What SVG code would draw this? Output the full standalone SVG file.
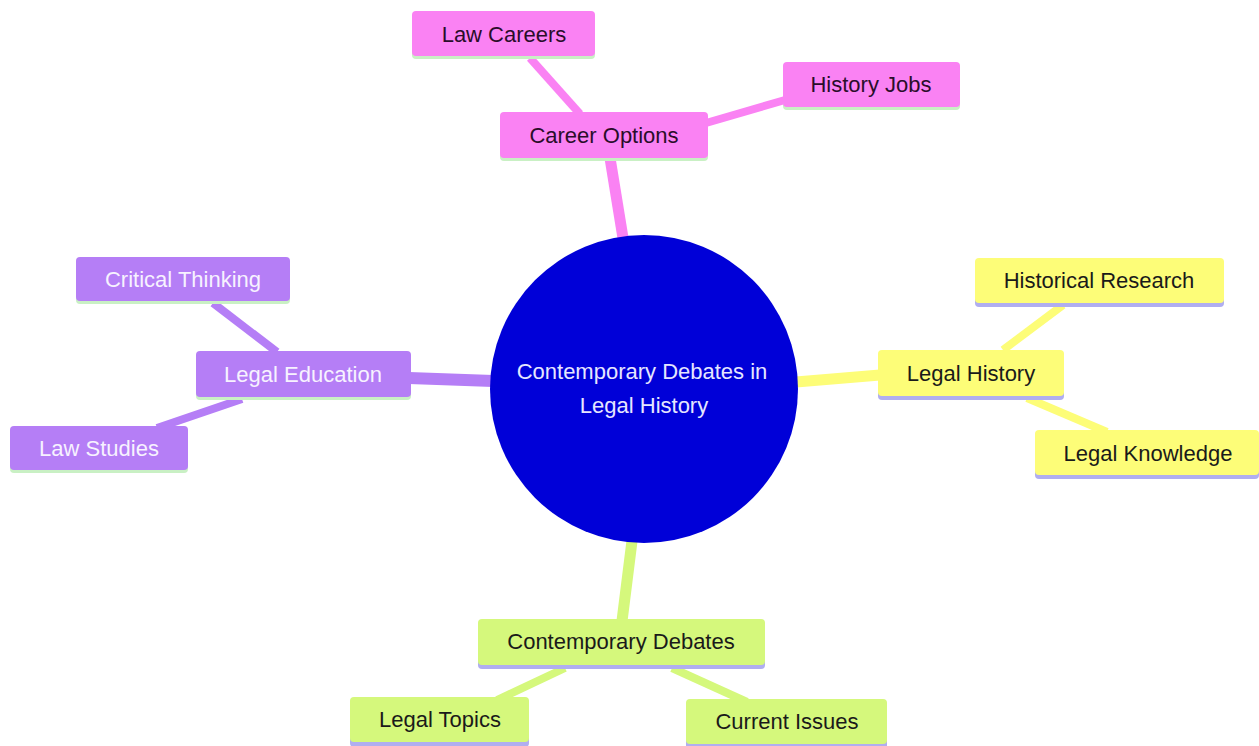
<svg xmlns="http://www.w3.org/2000/svg" width="1259" height="746" viewBox="0 0 1259 746">
<style>
text{font-family:"Liberation Sans",Arial,sans-serif;font-size:22px;text-anchor:middle;dominant-baseline:central}
.pk{fill:#fa82f3}.pu{fill:#b57ef6}.ye{fill:#fdfd78}.gr{fill:#d5f87c}
.ulg{fill:#c9f0c4}.ull{fill:#b0aef0}
.tpk{fill:#2a0d2a}.tpu{fill:#f7f2ff}.tdk{fill:#1a1a1a}
.e{fill:none;stroke-linecap:butt}
.epk{stroke:#fa82f3}.epu{stroke:#b57ef6}.eye{stroke:#fdfd78}.egr{stroke:#d5f87c}
</style>
<rect width="1259" height="746" fill="#ffffff"/>
<g id="connectors">
<line class="e epk" x1="610" y1="158" x2="623" y2="238" stroke-width="11"/>
<line class="e epu" x1="409" y1="378" x2="493" y2="381" stroke-width="12"/>
<line class="e eye" x1="796" y1="382" x2="880" y2="375" stroke-width="11"/>
<line class="e egr" x1="632" y1="541" x2="622" y2="621" stroke-width="11"/>
<line class="e epk" x1="530" y1="58" x2="580" y2="114" stroke-width="8"/>
<line class="e epk" x1="706" y1="123" x2="785" y2="100" stroke-width="8"/>
<line class="e epu" x1="213" y1="303" x2="277" y2="352" stroke-width="8"/>
<line class="e epu" x1="242" y1="399" x2="157" y2="428" stroke-width="8"/>
<line class="e eye" x1="1063" y1="305" x2="1003" y2="350" stroke-width="8"/>
<line class="e eye" x1="1027" y1="398" x2="1107" y2="432" stroke-width="8"/>
<line class="e egr" x1="565" y1="668" x2="497" y2="700" stroke-width="8"/>
<line class="e egr" x1="672" y1="668" x2="747" y2="702" stroke-width="8"/>
</g>
<g id="root">
<circle cx="644" cy="389" r="154" fill="#0000d8"/>
<text x="642" y="371" fill="#e6e6ff">Contemporary Debates in</text>
<text x="644" y="405" fill="#e6e6ff">Legal History</text>
</g>
<g id="career-options">
<rect class="ulg" x="500" y="114" width="208" height="47" rx="4"/>
<rect class="pk" x="500" y="112" width="208" height="46" rx="4"/>
<text class="tpk" x="604" y="135">Career Options</text>
</g>
<g id="law-careers">
<rect class="ulg" x="412" y="13" width="183" height="46" rx="4"/>
<rect class="pk" x="412" y="11" width="183" height="45" rx="4"/>
<text class="tpk" x="504" y="34">Law Careers</text>
</g>
<g id="history-jobs">
<rect class="ulg" x="783" y="64" width="177" height="46" rx="4"/>
<rect class="pk" x="783" y="62" width="177" height="45" rx="4"/>
<text class="tpk" x="871" y="84">History Jobs</text>
</g>
<g id="legal-education">
<rect class="ulg" x="196" y="353" width="215" height="47" rx="4"/>
<rect class="pu" x="196" y="351" width="215" height="46" rx="4"/>
<text class="tpu" x="303" y="374">Legal Education</text>
</g>
<g id="critical-thinking">
<rect class="ulg" x="76" y="259" width="214" height="45" rx="4"/>
<rect class="pu" x="76" y="257" width="214" height="44" rx="4"/>
<text class="tpu" x="183" y="279">Critical Thinking</text>
</g>
<g id="law-studies">
<rect class="ulg" x="10" y="428" width="178" height="45" rx="4"/>
<rect class="pu" x="10" y="426" width="178" height="44" rx="4"/>
<text class="tpu" x="99" y="448">Law Studies</text>
</g>
<g id="legal-history">
<rect class="ull" x="878" y="352" width="186" height="48" rx="4"/>
<rect class="ye" x="878" y="350" width="186" height="46" rx="4"/>
<text class="tdk" x="971" y="373">Legal History</text>
</g>
<g id="historical-research">
<rect class="ull" x="975" y="260" width="249" height="47" rx="4"/>
<rect class="ye" x="975" y="258" width="249" height="45" rx="4"/>
<text class="tdk" x="1099" y="280">Historical Research</text>
</g>
<g id="legal-knowledge">
<rect class="ull" x="1035" y="432" width="224" height="47" rx="4"/>
<rect class="ye" x="1035" y="430" width="224" height="45" rx="4"/>
<text class="tdk" x="1148" y="453">Legal Knowledge</text>
</g>
<g id="contemporary-debates">
<rect class="ull" x="478" y="621" width="287" height="48" rx="4"/>
<rect class="gr" x="478" y="619" width="287" height="46" rx="4"/>
<text class="tdk" x="621" y="641">Contemporary Debates</text>
</g>
<g id="legal-topics">
<rect class="ull" x="350" y="699" width="179" height="48" rx="4"/>
<rect class="gr" x="350" y="697" width="179" height="45" rx="4"/>
<text class="tdk" x="440" y="719">Legal Topics</text>
</g>
<g id="current-issues">
<rect class="ull" x="686" y="701" width="201" height="48" rx="4"/>
<rect class="gr" x="686" y="699" width="201" height="45" rx="4"/>
<text class="tdk" x="787" y="721">Current Issues</text>
</g>
</svg>
